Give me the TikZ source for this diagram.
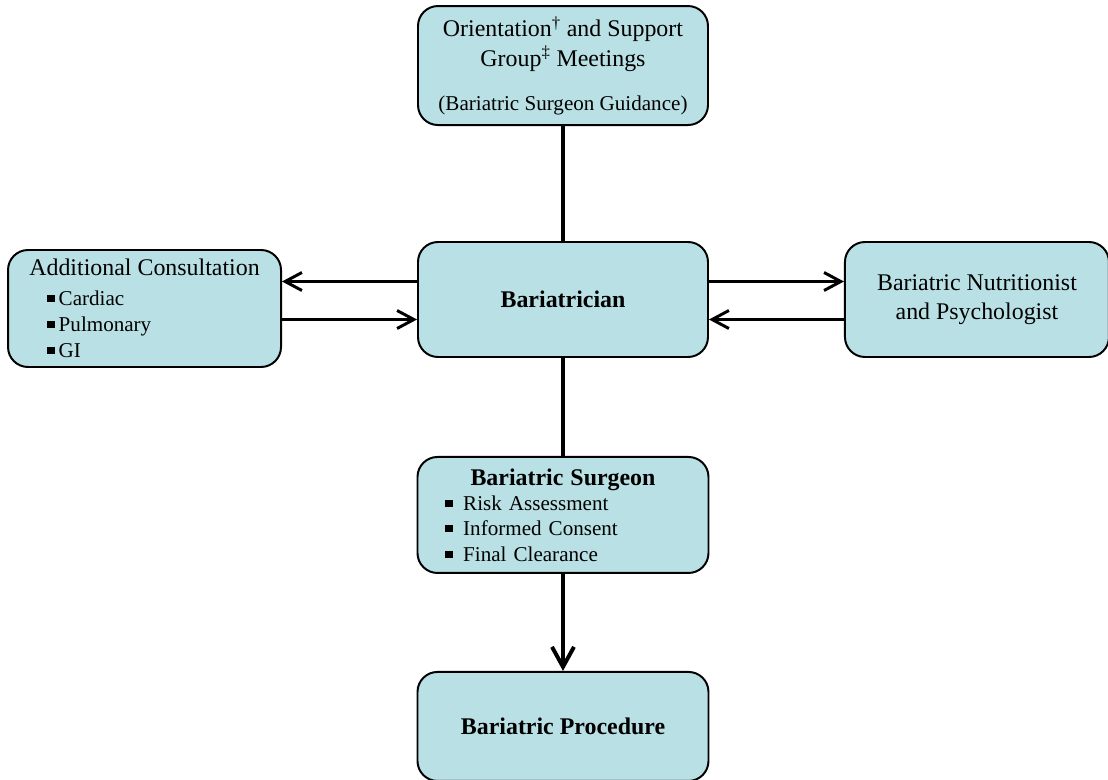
\documentclass[tikz,border=0pt]{standalone}
\usepackage{fontspec}
\setmainfont{Liberation Serif}
\usepackage{xcolor}
\usepackage{tikz}
\usetikzlibrary{positioning, arrows.meta, calc}

\definecolor{boxfill}{RGB}{185,224,228}
\newcommand{\sqb}[1][0.2em]{\rule[0.16em]{0.34em}{0.34em}\hspace{#1}}

\begin{document}
\begin{tikzpicture}[node distance=2.875cm, auto]
        \tikzstyle{stage} = [rectangle, draw=black, line width=1.4pt, fill=boxfill, rounded corners=0.5cm, minimum width=7.25cm, minimum height=2.875cm, align=center, inner sep=0pt, font=\fontsize{17}{21}\selectfont]
        \tikzstyle{arrow} = [line width=2.1pt, -{Straight Barb[length=0.42cm, width=0.45cm, line width=2.1pt]}]
        \tikzstyle{downarrow} = [line width=2.8pt, -{Straight Barb[length=0.5cm, width=0.55cm, line width=2.8pt]}]
        \tikzstyle{link} = [line width=2.8pt]

        \useasboundingbox (-14.075,-11.9875) rectangle (13.625,7.4875);

        \node [stage] (bar) {\textbf{Bariatrician}};

        \node [stage, above=of bar, minimum height=2.975cm] (orient) {Orientation\textsuperscript{\textdagger} and Support\\Group\textsuperscript{\textdaggerdbl} Meetings\\[10pt]{\fontsize{15}{18}\selectfont (Bariatric Surgeon Guidance)}};
        \node [stage, left=3.375cm of bar, yshift=-0.225cm, minimum width=6.825cm, minimum height=2.925cm, align=left, font=\fontsize{17}{18.5}\selectfont] (addcons) {Additional Consultation\\[3pt]
            \hspace*{0.45cm}{\fontsize{15}{18}\selectfont\sqb Cardiac}\\
            \hspace*{0.45cm}{\fontsize{15}{18}\selectfont\sqb Pulmonary}\\
            \hspace*{0.45cm}{\fontsize{15}{18}\selectfont\sqb GI}};
        \node [stage, right=3.375cm of bar, minimum width=6.6cm] (nutri) {Bariatric Nutritionist\\and Psychologist};

        \node [stage, below=2.45cm of bar, minimum width=7.275cm, minimum height=2.9cm, text width=5.875cm, align=left, font=\fontsize{15}{18}\selectfont] (surgeon) {\makebox[\linewidth]{\fontsize{17}{18}\selectfont\textbf{Bariatric Surgeon}}\\
            \sqb[0.5em]Risk Assessment\\
            \sqb[0.5em]Informed Consent\\
            \sqb[0.5em]Final Clearance};
        \node [stage, below=2.425cm of surgeon, minimum width=7.275cm, minimum height=2.725cm] (proc) {\textbf{Bariatric Procedure}};

        \draw [link] (orient) -- (bar);
        \draw [link] (bar) -- (surgeon);
        \draw [downarrow] (surgeon) -- (proc);
        \draw [arrow] ([yshift=0.45cm]bar.west) -- ([yshift=0.45cm]bar.west -| addcons.east);
        \draw [arrow] ([yshift=-0.5cm]bar.west -| addcons.east) -- ([yshift=-0.5cm]bar.west);
        \draw [arrow] ([yshift=0.45cm]bar.east) -- ([yshift=0.45cm]bar.east -| nutri.west);
        \draw [arrow] ([yshift=-0.5cm]bar.east -| nutri.west) -- ([yshift=-0.5cm]bar.east);
    \end{tikzpicture}
\end{document}
